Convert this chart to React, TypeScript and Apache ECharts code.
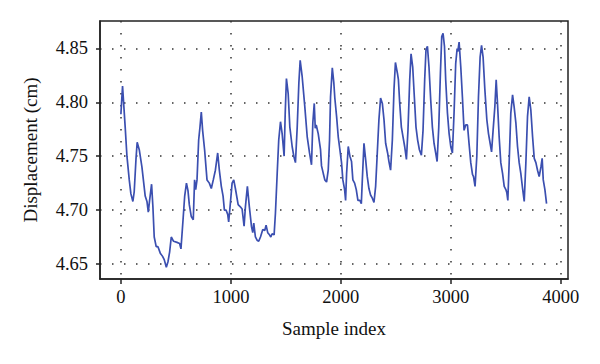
import React, { useEffect, useRef } from "react";
import * as echarts from "echarts";

const sampleIndex = [
  0, 15, 39, 55, 76, 91, 109, 121, 137, 148, 167, 191, 221, 237, 249, 261, 279, 291, 303, 321,
  337, 358, 379, 394, 413, 428, 443, 458, 479, 510, 534, 546, 565, 580, 596, 610, 622, 640, 658, 670,
  680, 692, 707, 719, 731, 743, 761, 783, 804, 822, 840, 859, 880, 895, 913, 929, 941, 956, 971, 980,
  995, 1011, 1026, 1041, 1066, 1086, 1102, 1120, 1132, 1150, 1168, 1187, 1199, 1208, 1223, 1238, 1253, 1269, 1290, 1308,
  1320, 1335, 1351, 1363, 1375, 1393, 1405, 1421, 1435, 1451, 1466, 1484, 1494, 1505, 1521, 1536, 1557, 1572, 1587, 1603,
  1618, 1630, 1648, 1672, 1694, 1715, 1733, 1745, 1758, 1767, 1776, 1794, 1815, 1824, 1840, 1854, 1870, 1885, 1897, 1906,
  1922, 1936, 1945, 1961, 1976, 1991, 2006, 2018, 2034, 2043, 2052, 2067, 2082, 2097, 2109, 2125, 2140, 2155, 2173, 2186,
  2195, 2210, 2225, 2240, 2255, 2270, 2286, 2301, 2316, 2331, 2346, 2361, 2377, 2392, 2407, 2425, 2437, 2452, 2468, 2483,
  2496, 2514, 2523, 2535, 2550, 2565, 2580, 2596, 2610, 2626, 2638, 2653, 2668, 2683, 2698, 2714, 2732, 2747, 2762, 2774,
  2787, 2801, 2817, 2832, 2847, 2862, 2875, 2890, 2905, 2917, 2929, 2942, 2953, 2969, 2984, 2999, 3014, 3029, 3044, 3057,
  3063, 3075, 3090, 3105, 3120, 3135, 3151, 3166, 3181, 3197, 3206, 3220, 3236, 3251, 3266, 3279, 3293, 3309, 3327, 3342,
  3357, 3370, 3384, 3400, 3412, 3424, 3439, 3454, 3470, 3485, 3500, 3509, 3518, 3530, 3545, 3561, 3575, 3591, 3606, 3621,
  3636, 3652, 3667, 3682, 3697, 3712, 3727, 3743, 3758, 3773, 3788, 3803, 3819, 3830, 3840, 3855, 3870,
];

const displacement = [
  4.789, 4.815, 4.777, 4.750, 4.728, 4.715, 4.708, 4.717, 4.747, 4.763, 4.756, 4.740, 4.713, 4.708, 4.698, 4.709, 4.724, 4.703, 4.675, 4.666,
  4.666, 4.660, 4.657, 4.654, 4.647, 4.652, 4.661, 4.675, 4.671, 4.670, 4.669, 4.664, 4.691, 4.713, 4.725, 4.718, 4.705, 4.694, 4.691, 4.728,
  4.719, 4.728, 4.765, 4.777, 4.791, 4.774, 4.756, 4.728, 4.725, 4.720, 4.728, 4.737, 4.753, 4.737, 4.722, 4.713, 4.700, 4.700, 4.696, 4.689,
  4.706, 4.725, 4.728, 4.720, 4.705, 4.703, 4.701, 4.685, 4.703, 4.722, 4.703, 4.685, 4.679, 4.688, 4.675, 4.672, 4.671, 4.675, 4.682, 4.681,
  4.686, 4.679, 4.677, 4.675, 4.678, 4.677, 4.697, 4.734, 4.765, 4.782, 4.771, 4.750, 4.790, 4.822, 4.808, 4.777, 4.759, 4.750, 4.744, 4.777,
  4.818, 4.839, 4.824, 4.796, 4.768, 4.753, 4.742, 4.781, 4.799, 4.776, 4.779, 4.771, 4.756, 4.741, 4.734, 4.728, 4.726, 4.737, 4.765, 4.805,
  4.832, 4.818, 4.804, 4.787, 4.768, 4.756, 4.744, 4.728, 4.719, 4.709, 4.734, 4.759, 4.750, 4.745, 4.728, 4.725, 4.719, 4.709, 4.709, 4.706,
  4.728, 4.762, 4.747, 4.731, 4.720, 4.714, 4.711, 4.707, 4.722, 4.753, 4.784, 4.804, 4.799, 4.784, 4.762, 4.753, 4.745, 4.737, 4.765, 4.812,
  4.837, 4.827, 4.821, 4.799, 4.777, 4.768, 4.759, 4.747, 4.774, 4.821, 4.845, 4.833, 4.805, 4.777, 4.765, 4.756, 4.751, 4.774, 4.821, 4.849,
  4.852, 4.833, 4.802, 4.777, 4.762, 4.753, 4.745, 4.777, 4.827, 4.861, 4.864, 4.852, 4.821, 4.790, 4.771, 4.759, 4.753, 4.790, 4.836, 4.850,
  4.847, 4.856, 4.833, 4.805, 4.774, 4.779, 4.779, 4.761, 4.744, 4.733, 4.731, 4.722, 4.750, 4.805, 4.842, 4.853, 4.842, 4.812, 4.784, 4.771,
  4.762, 4.754, 4.774, 4.796, 4.821, 4.799, 4.768, 4.744, 4.734, 4.722, 4.719, 4.716, 4.709, 4.744, 4.790, 4.807, 4.796, 4.781, 4.759, 4.744,
  4.734, 4.720, 4.708, 4.744, 4.787, 4.805, 4.793, 4.768, 4.748, 4.744, 4.737, 4.731, 4.740, 4.748, 4.728, 4.719, 4.706,
];

const xTicks = [0, 1000, 2000, 3000, 4000];
const yTicks = [4.65, 4.7, 4.75, 4.8, 4.85];

const FONT = "'Liberation Serif', 'DejaVu Serif', serif";

export default function App() {
  const ref = useRef<HTMLDivElement>(null);
  useEffect(() => {
    if (!ref.current) return;
    const chart = echarts.init(ref.current, undefined, { renderer: "svg" });
    const dotted = { type: [1.5, 10.5] as any, color: "#333", width: 1.5 };
    chart.setOption({
      animation: false,
      backgroundColor: "#fff",
      grid: {
        left: 100,
        right: 32,
        top: 21,
        bottom: 85,
        show: true,
        borderColor: "#222",
        borderWidth: 1.5,
        backgroundColor: "transparent",
      },
      xAxis: {
        type: "value",
        min: -190,
        max: 4065,
        name: "Sample index",
        nameLocation: "middle",
        nameGap: 40,
        nameTextStyle: { fontFamily: FONT, fontSize: 19, color: "#111" },
        axisLine: { show: true, onZero: false, lineStyle: { color: "#222", width: 1.5 } },
        axisTick: { show: true, inside: false, length: 5, customValues: xTicks, lineStyle: { color: "#222", width: 1.5 } },
        axisLabel: {
          customValues: xTicks,
          fontFamily: FONT,
          fontSize: 18.5,
          color: "#111",
          margin: 8,
          formatter: (v: number) => String(Math.round(v)),
        },
        splitLine: { show: true, lineStyle: dotted },
      },
      yAxis: {
        type: "value",
        min: 4.636,
        max: 4.8755,
        name: "Displacement (cm)",
        nameLocation: "middle",
        nameGap: 60,
        nameTextStyle: { fontFamily: FONT, fontSize: 19, color: "#111" },
        axisLine: { show: true, onZero: false, lineStyle: { color: "#222", width: 1.5 } },
        axisTick: { show: true, inside: false, length: 4, customValues: yTicks, lineStyle: { color: "#222", width: 1.5 } },
        axisLabel: {
          customValues: yTicks,
          fontFamily: FONT,
          fontSize: 18.5,
          color: "#111",
          margin: 12,
          formatter: (v: number) => v.toFixed(2),
        },
        splitLine: { show: true, lineStyle: dotted },
      },
      series: [
        {
          type: "line",
          data: sampleIndex.map((x, i) => [x, displacement[i]]),
          showSymbol: false,
          symbol: "none",
          lineStyle: { color: "#3b4fb0", width: 1.7 },
          z: 3,
        },
      ],
    });
    return () => chart.dispose();
  }, []);
  return <div ref={ref} style={{ width: 600, height: 364, position: "absolute", left: 0, top: 0 }} />;
}
